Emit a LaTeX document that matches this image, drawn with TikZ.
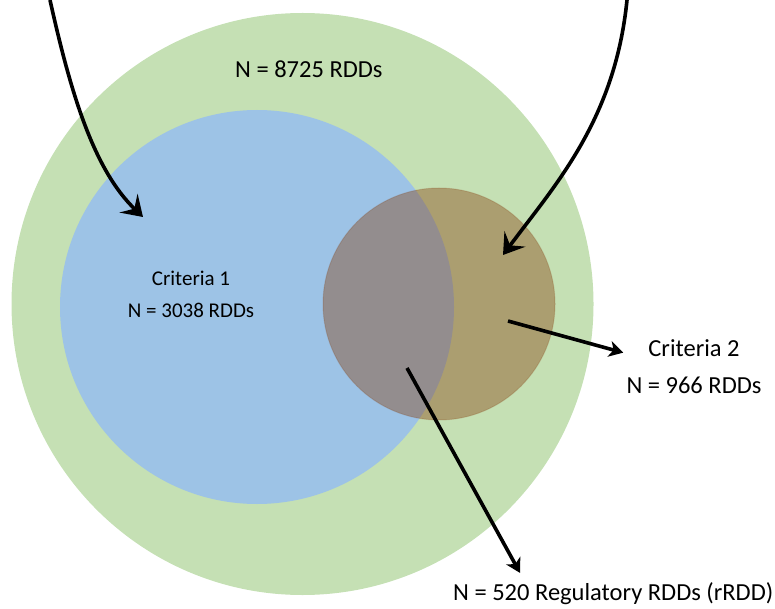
\documentclass[tikz,border=0pt]{standalone}
\usepackage{fontspec}
\setmainfont{Carlito}
\usepackage{xcolor}
\usepackage{tikz}
\usetikzlibrary{arrows.meta,positioning}
\definecolor{SetGreen}{HTML}{C5E0B4}
\definecolor{SetBlue}{HTML}{9DC3E6}
\definecolor{SetBrown}{HTML}{843C0C}

\begin{document}
\begin{tikzpicture}[x=1pt, y=-1pt,
    setcircle/.style={circle, inner sep=0pt, outer sep=0pt},
    txt/.style={inner sep=0pt, text=black, font=\fontsize{21}{25}\selectfont},
    bigtxt/.style={txt, font=\fontsize{24.5}{29}\selectfont},
    curved/.style={-{Stealth[length=20pt, width=26pt, inset=8pt]}, line width=3.6pt},
    pointer/.style={-{Stealth[length=14pt, width=16pt, inset=4pt]}, line width=3.6pt}
  ]
    \useasboundingbox (0,0) rectangle (775,609);
    % the three sets
    \node[setcircle, fill=SetGreen, minimum size=582pt] (all) at (302.5,304) {};
    \node[setcircle, fill=SetBlue, minimum size=394pt] (crit1) at (257,307) {};
    \node[setcircle, fill=SetBrown, fill opacity=0.4, draw=SetBrown, draw opacity=0.2, line width=1pt, minimum size=232pt] (crit2) at (439,304) {};
    % arrow ends
    \coordinate (fromleft) at (50,0);
    \coordinate (inleft) at (143,217);
    \coordinate (fromright) at (627,0);
    \coordinate (inright) at (503,255);
    \coordinate (crit2dot) at (508,321);
    \coordinate (overlapdot) at (407,368);
    % labels
    \node[bigtxt, anchor=base west] (alltxt) at (235,78) {N = 8725 RDDs};
    \node[txt, anchor=base] (crit1name) at (191,285) {Criteria 1};
    \node[txt, anchor=base] (crit1n) at ([yshift=-32pt]crit1name.base) {N = 3038 RDDs};
    \node[bigtxt, anchor=base] (crit2name) at (694,356) {Criteria 2};
    \node[bigtxt, anchor=base] (crit2n) at ([yshift=-37pt]crit2name.base) {N = 966 RDDs};
    \node[bigtxt, anchor=base west] (rrddtxt) at (453,600) {N = 520 Regulatory RDDs (rRDD)};
    % connectors
    \draw[curved] (fromleft) .. controls (70,90) and (93,169) .. (inleft);
    \draw[curved] (fromright) .. controls (615,120) and (555,185) .. (inright);
    \draw[pointer] (crit2dot) -- ([xshift=-25pt, yshift=-5pt]crit2name.west);
    \draw[pointer] (overlapdot) -- ([xshift=67pt, yshift=9pt]rrddtxt.north west);
  \end{tikzpicture}
\end{document}
